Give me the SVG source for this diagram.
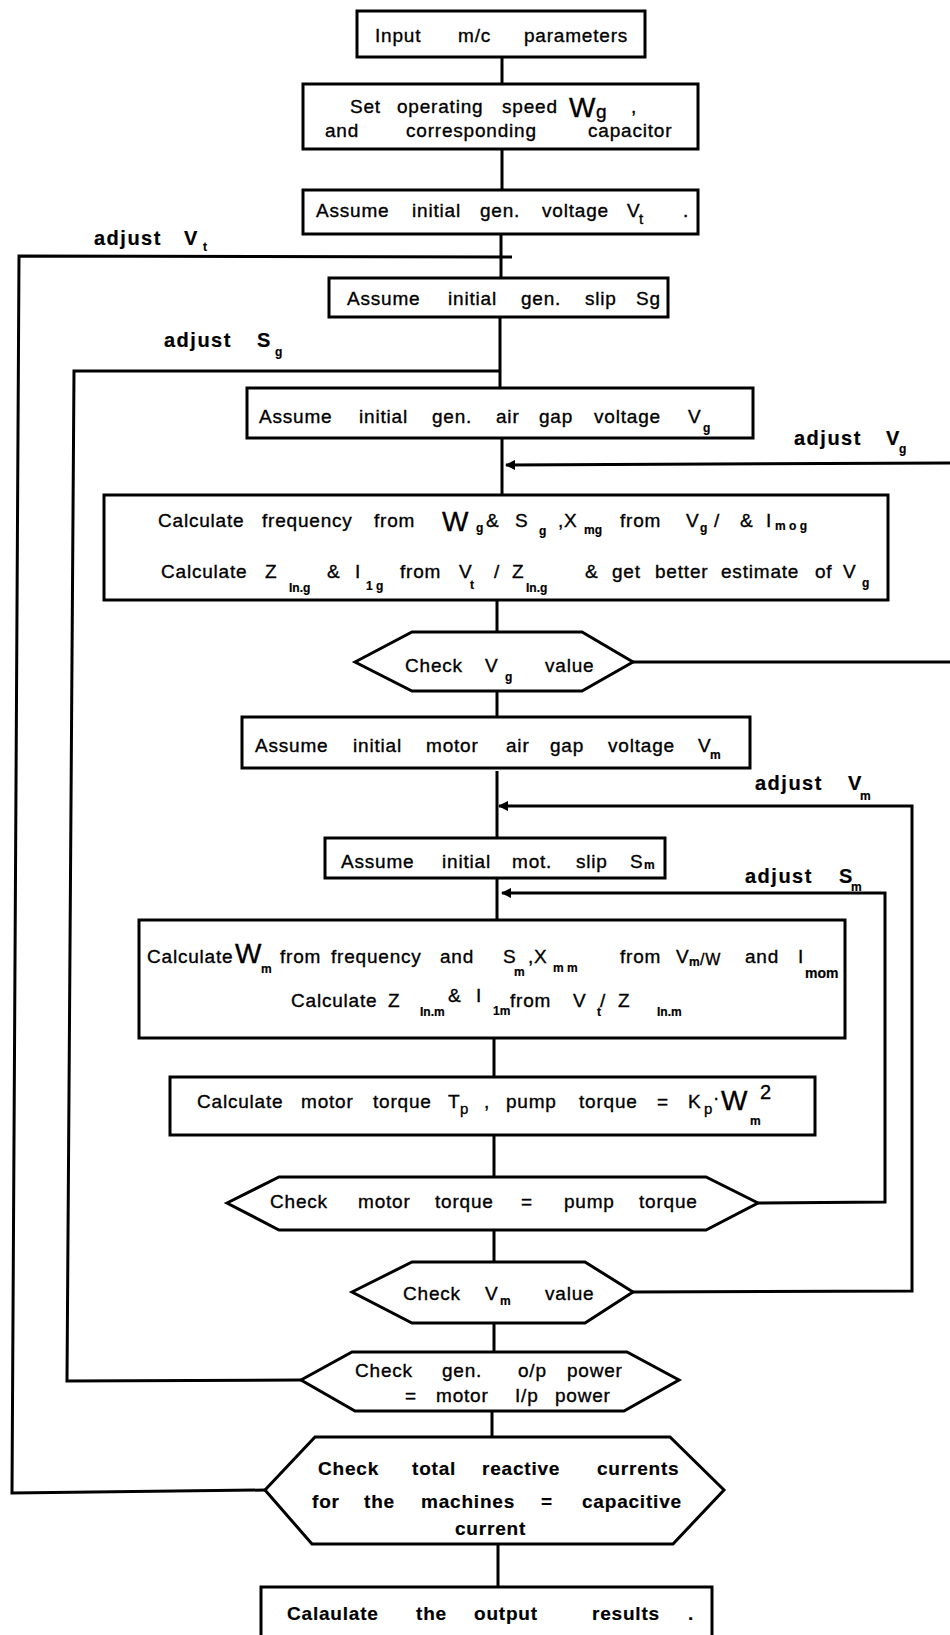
<svg xmlns="http://www.w3.org/2000/svg" width="950" height="1635" viewBox="0 0 950 1635">
<defs>
<style>
.bx{fill:#fff;stroke:#000;stroke-width:3}
.ln{fill:none;stroke:#000;stroke-width:3;stroke-linejoin:miter}
text{font-family:"Liberation Sans",Arial,Helvetica,sans-serif;font-size:19px;letter-spacing:0.8px;fill:#000;stroke:#000;stroke-width:0.35px}
.b{font-weight:bold;stroke-width:0.2px}
.sub{font-size:12px;letter-spacing:0}
.sb{font-size:12px;font-weight:bold;letter-spacing:0;stroke-width:0.2px}
.big{font-size:28px;letter-spacing:0}
.lbl{font-weight:bold;font-size:20px;letter-spacing:1.5px;stroke-width:0.2px}
</style>
<marker id="arr" viewBox="0 0 10 10" refX="9" refY="5" markerWidth="3.5" markerHeight="3.5" orient="auto" markerUnits="strokeWidth">
<path d="M0,0 L10,5 L0,10 z" fill="#000"/>
</marker>
</defs>
<rect width="950" height="1635" fill="#fff"/>

<g id="connectors">
<path class="ln" d="M502 57 V84"/>
<path class="ln" d="M502 149 V190"/>
<path class="ln" d="M501 234 V278"/>
<path class="ln" d="M500 317 V388"/>
<path class="ln" d="M502 438 V495"/>
<path class="ln" d="M497 600 V632"/>
<path class="ln" d="M497 691 V717"/>
<path class="ln" d="M497 771 V838"/>
<path class="ln" d="M497 878 V920"/>
<path class="ln" d="M494 1038 V1077"/>
<path class="ln" d="M494 1135 V1177"/>
<path class="ln" d="M494 1230 V1262"/>
<path class="ln" d="M494 1323 V1352"/>
<path class="ln" d="M492 1411 V1437"/>
<path class="ln" d="M498 1544 V1587"/>
<path class="ln" d="M265 1490 L12 1493 L19 256 L512 257"/>
<path class="ln" d="M301 1380 L67 1381 L74 371 L500 371"/>
<path class="ln" d="M633 662 L950 662"/>
<path class="ln" d="M950 463 L506 465" marker-end="url(#arr)"/>
<path class="ln" d="M633 1292 L912 1291 L912 806 L499 806" marker-end="url(#arr)"/>
<path class="ln" d="M758 1203 L885 1202 L885 893 L502 893" marker-end="url(#arr)"/>
</g>

<g id="lbl-adjust-vt"><text class="lbl" x="94" y="245">adjust</text><text class="lbl" x="184" y="245">V</text><text class="sb" x="203" y="251">t</text></g>
<g id="lbl-adjust-sg"><text class="lbl" x="164" y="347">adjust</text><text class="lbl" x="257" y="347">S</text><text class="sb" x="275" y="356">g</text></g>
<g id="lbl-adjust-vg"><text class="lbl" x="794" y="445">adjust</text><text class="lbl" x="886" y="445">V</text><text class="sb" x="899" y="453">g</text></g>
<g id="lbl-adjust-vm"><text class="lbl" x="755" y="790">adjust</text><text class="lbl" x="848" y="790">V</text><text class="sb" x="860" y="800">m</text></g>
<g id="lbl-adjust-sm"><text class="lbl" x="745" y="883">adjust</text><text class="lbl" x="839" y="883">S</text><text class="sb" x="851" y="891">m</text></g>

<g id="n1">
<rect class="bx" x="357" y="11" width="288" height="46"/>
<text y="42"><tspan x="375">Input</tspan><tspan x="458">m/c</tspan><tspan x="524">parameters</tspan></text>
</g>

<g id="n2">
<rect class="bx" x="303" y="84" width="395" height="65"/>
<text y="113"><tspan x="350">Set</tspan><tspan x="397">operating</tspan><tspan x="502">speed</tspan></text>
<text class="big" x="569" y="117">W</text><text x="596" y="118">g</text><text x="631" y="113">,</text>
<text y="137"><tspan x="325">and</tspan><tspan x="406">corresponding</tspan><tspan x="588">capacitor</tspan></text>
</g>

<g id="n3">
<rect class="bx" x="303" y="190" width="395" height="44"/>
<text y="217"><tspan x="316">Assume</tspan><tspan x="412">initial</tspan><tspan x="480">gen.</tspan><tspan x="542">voltage</tspan><tspan x="627">V</tspan><tspan x="683">.</tspan></text>
<text class="sub" x="639" y="224" style="font-size:15px">t</text>
</g>

<g id="n4">
<rect class="bx" x="329" y="278" width="339" height="39"/>
<text y="305"><tspan x="347">Assume</tspan><tspan x="448">initial</tspan><tspan x="521">gen.</tspan><tspan x="585">slip</tspan><tspan x="636">Sg</tspan></text>
</g>

<g id="n5">
<rect class="bx" x="247" y="388" width="506" height="50"/>
<text y="423"><tspan x="259">Assume</tspan><tspan x="359">initial</tspan><tspan x="432">gen.</tspan><tspan x="496">air</tspan><tspan x="539">gap</tspan><tspan x="594">voltage</tspan><tspan x="688">V</tspan></text>
<text class="sb" x="703" y="432">g</text>
</g>

<g id="n6">
<rect class="bx" x="104" y="495" width="784" height="105"/>
<text y="527"><tspan x="158">Calculate</tspan><tspan x="262">frequency</tspan><tspan x="374">from</tspan></text>
<text class="big" x="442" y="531">W</text><text class="sb" x="476" y="532">g</text>
<text y="527"><tspan x="486">&amp;</tspan><tspan x="515">S</tspan></text><text class="sb" x="539" y="535">g</text>
<text x="558" y="527">,X</text><text class="sb" x="584" y="534">mg</text>
<text y="527"><tspan x="620">from</tspan><tspan x="686">V</tspan></text><text class="sb" x="700" y="532">g</text>
<text y="527"><tspan x="714">/</tspan><tspan x="740">&amp;</tspan><tspan x="766">I</tspan></text><text class="sb" x="775" y="530">m o g</text>
<text y="578"><tspan x="161">Calculate</tspan><tspan x="265">Z</tspan></text><text class="sb" x="289" y="592">In.g</text>
<text y="578"><tspan x="327">&amp;</tspan><tspan x="355">I</tspan></text><text class="sb" x="366" y="590">1 g</text>
<text y="578"><tspan x="400">from</tspan><tspan x="459">V</tspan></text><text class="sb" x="470" y="589">t</text>
<text y="578"><tspan x="494">/</tspan><tspan x="512">Z</tspan></text><text class="sb" x="526" y="592">In.g</text>
<text y="578"><tspan x="585">&amp;</tspan><tspan x="612">get</tspan><tspan x="655">better</tspan><tspan x="721">estimate</tspan><tspan x="815">of</tspan><tspan x="843">V</tspan></text><text class="sb" x="862" y="587">g</text>
</g>

<g id="n7">
<polygon class="bx" points="355,662 412,632 582,632 633,662 582,691 412,691"/>
<text y="672"><tspan x="405">Check</tspan><tspan x="485">V</tspan><tspan x="545">value</tspan></text>
<text class="sb" x="505" y="681">g</text>
</g>

<g id="n8">
<rect class="bx" x="242" y="717" width="508" height="51"/>
<text y="752"><tspan x="255">Assume</tspan><tspan x="353">initial</tspan><tspan x="426">motor</tspan><tspan x="506">air</tspan><tspan x="550">gap</tspan><tspan x="608">voltage</tspan><tspan x="698">V</tspan></text>
<text class="sb" x="710" y="759">m</text>
</g>

<g id="n9">
<rect class="bx" x="325" y="838" width="340" height="40"/>
<text y="868"><tspan x="341">Assume</tspan><tspan x="442">initial</tspan><tspan x="512">mot.</tspan><tspan x="576">slip</tspan><tspan x="630">S</tspan></text>
<text class="sb" x="644" y="869">m</text>
</g>

<g id="n10">
<rect class="bx" x="139" y="920" width="706" height="118"/>
<text x="147" y="963">Calculate</text>
<text class="big" x="235" y="963">W</text><text class="sb" x="261" y="973">m</text>
<text y="963"><tspan x="280">from</tspan><tspan x="331">frequency</tspan><tspan x="440">and</tspan><tspan x="503">S</tspan></text><text class="sb" x="514" y="976">m</text>
<text x="528" y="963">,X</text><text class="sb" x="553" y="972">m m</text>
<text y="963"><tspan x="620">from</tspan><tspan x="676">V</tspan></text><text class="sb" x="689" y="966">m</text>
<text x="700" y="965" style="font-size:16px">/W</text>
<text y="963"><tspan x="745">and</tspan><tspan x="798">I</tspan></text><text class="sb" x="805" y="978" style="font-size:14px">mom</text>
<text y="1007"><tspan x="291">Calculate</tspan><tspan x="388">Z</tspan></text><text class="sb" x="420" y="1016">In.m</text>
<text y="1002"><tspan x="448">&amp;</tspan><tspan x="476">I</tspan></text><text class="sb" x="493" y="1015">1m</text>
<text y="1007"><tspan x="510">from</tspan><tspan x="573">V</tspan></text><text class="sb" x="597" y="1016">t</text>
<text y="1007"><tspan x="600">/</tspan><tspan x="618">Z</tspan></text><text class="sb" x="657" y="1016">In.m</text>
</g>

<g id="n11">
<rect class="bx" x="170" y="1077" width="645" height="58"/>
<text y="1108"><tspan x="197">Calculate</tspan><tspan x="301">motor</tspan><tspan x="373">torque</tspan><tspan x="448">T</tspan></text>
<text class="sub" x="460" y="1114" style="font-size:15px">p</text>
<text y="1108"><tspan x="484">,</tspan><tspan x="506">pump</tspan><tspan x="579">torque</tspan><tspan x="657">=</tspan><tspan x="688">K</tspan></text>
<text class="sub" x="704" y="1114" style="font-size:15px">p</text>
<text x="713" y="1104">·</text>
<text class="big" x="721" y="1110">W</text>
<text x="760" y="1099" style="font-size:20px">2</text>
<text class="sb" x="750" y="1125">m</text>
</g>

<g id="n12">
<polygon class="bx" points="227,1203 279,1177 706,1177 758,1203 706,1230 279,1230"/>
<text y="1208"><tspan x="270">Check</tspan><tspan x="358">motor</tspan><tspan x="435">torque</tspan><tspan x="521">=</tspan><tspan x="564">pump</tspan><tspan x="639">torque</tspan></text>
</g>

<g id="n13">
<polygon class="bx" points="352,1292 412,1262 585,1262 633,1292 585,1323 412,1323"/>
<text y="1300"><tspan x="403">Check</tspan><tspan x="485">V</tspan><tspan x="545">value</tspan></text>
<text class="sb" x="500" y="1305">m</text>
</g>

<g id="n14">
<polygon class="bx" points="301,1380 352,1352 627,1352 679,1380 624,1411 355,1411"/>
<text y="1377"><tspan x="355">Check</tspan><tspan x="442">gen.</tspan><tspan x="518">o/p</tspan><tspan x="567">power</tspan></text>
<text y="1402"><tspan x="405">=</tspan><tspan x="436">motor</tspan><tspan x="515">I/p</tspan><tspan x="555">power</tspan></text>
</g>

<g id="n15">
<polygon class="bx" points="265,1490 315,1437 670,1437 724,1490 673,1544 312,1544"/>
<text class="b" y="1475"><tspan x="318">Check</tspan><tspan x="412">total</tspan><tspan x="482">reactive</tspan><tspan x="597">currents</tspan></text>
<text class="b" y="1508"><tspan x="312">for</tspan><tspan x="364">the</tspan><tspan x="421">machines</tspan><tspan x="541">=</tspan><tspan x="582">capacitive</tspan></text>
<text class="b" x="455" y="1535">current</text>
</g>

<g id="n16">
<rect class="bx" x="261" y="1587" width="451" height="70"/>
<text class="b" y="1620"><tspan x="287">Calaulate</tspan><tspan x="416">the</tspan><tspan x="474">output</tspan><tspan x="592">results</tspan><tspan x="688">.</tspan></text>
</g>
</svg>
